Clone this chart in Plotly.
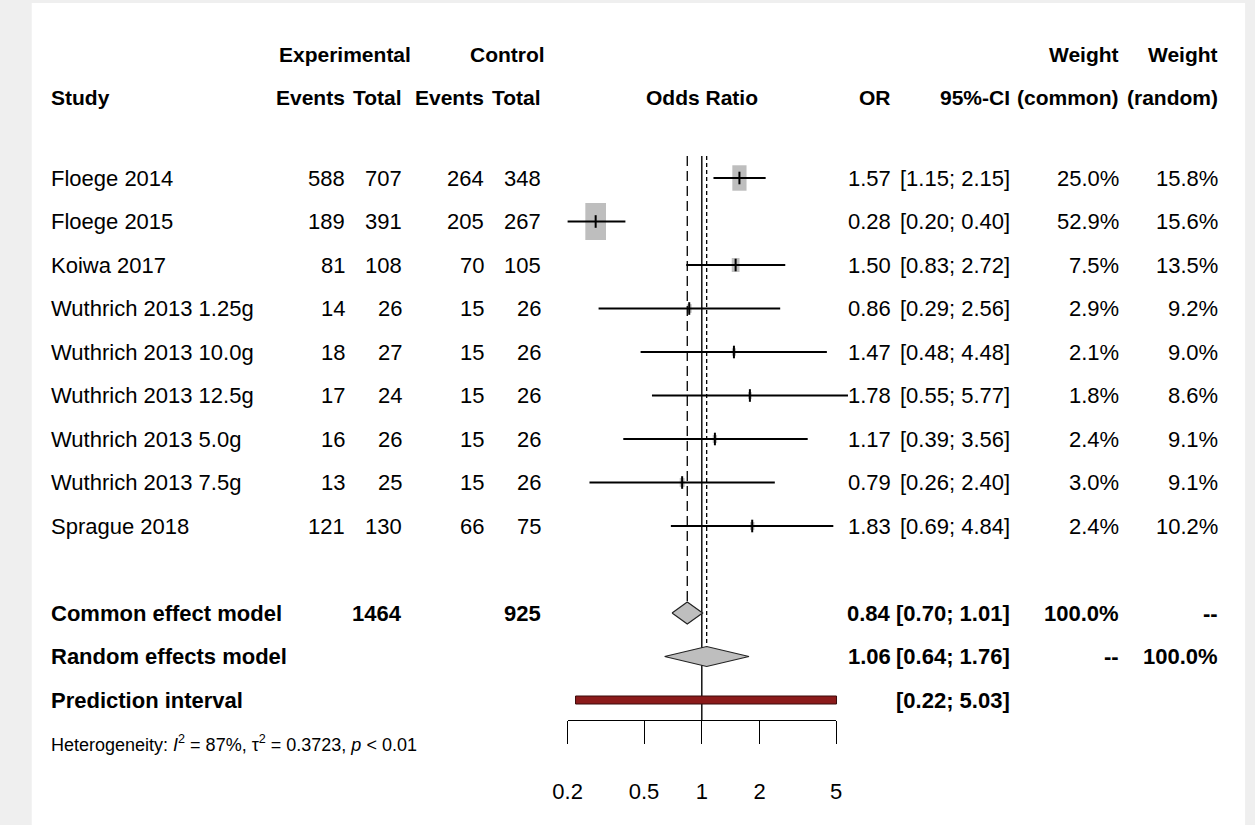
import math
import plotly.graph_objects as go

# ---- data -------------------------------------------------------------
studies = ["Floege 2014", "Floege 2015", "Koiwa 2017", "Wuthrich 2013 1.25g",
           "Wuthrich 2013 10.0g", "Wuthrich 2013 12.5g", "Wuthrich 2013 5.0g",
           "Wuthrich 2013 7.5g", "Sprague 2018"]
exp_events = [588, 189, 81, 14, 18, 17, 16, 13, 121]
exp_total = [707, 391, 108, 26, 27, 24, 26, 25, 130]
ctrl_events = [264, 205, 70, 15, 15, 15, 15, 15, 66]
ctrl_total = [348, 267, 105, 26, 26, 26, 26, 26, 75]
odds_ratio = [1.57, 0.28, 1.50, 0.86, 1.47, 1.78, 1.17, 0.79, 1.83]
ci_lower = [1.15, 0.20, 0.83, 0.29, 0.48, 0.55, 0.39, 0.26, 0.69]
ci_upper = [2.15, 0.40, 2.72, 2.56, 4.48, 5.77, 3.56, 2.40, 4.84]
weight_common = [25.0, 52.9, 7.5, 2.9, 2.1, 1.8, 2.4, 3.0, 2.4]
weight_random = [15.8, 15.6, 13.5, 9.2, 9.0, 8.6, 9.1, 9.1, 10.2]

exp_total_sum = 1464
ctrl_total_sum = 925
common_est, common_lo, common_hi = 0.84, 0.70, 1.01
random_est, random_lo, random_hi = 1.06, 0.64, 1.76
pred_lo, pred_hi = 0.22, 5.03
heterogeneity = "Heterogeneity: <i>I</i><sup>2</sup> = 87%, τ<sup>2</sup> = 0.3723, <i>p</i> &lt; 0.01"

tick_vals = [0.2, 0.5, 1, 2, 5]
tick_text = ["0.2", "0.5", "1", "2", "5"]

# ---- layout geometry (pixels) ----------------------------------------
W, H = 1255, 825
AX_LEFT_PX, AX_RIGHT_PX = 562, 835            # positions of 0.2 and 5
PX_PER_DEC = (AX_RIGHT_PX - AX_LEFT_PX) / math.log10(5 / 0.2)
X_RANGE = [math.log10(0.2) - AX_LEFT_PX / PX_PER_DEC,
           math.log10(5) + (W - AX_RIGHT_PX) / PX_PER_DEC]
AXIS_Y = 720

ROW0, ROW_STEP = 178, 43.5
row_y = [ROW0 + i * ROW_STEP for i in range(len(studies))]
y_common = row_y[-1] + 2 * ROW_STEP
y_random = y_common + ROW_STEP
y_pred = y_random + ROW_STEP
y_het = y_pred + ROW_STEP
HDR1, HDR2 = 54, 97

FONT = "Liberation Sans, Arial, Helvetica, sans-serif"
FS = 22
FS_HDR = 21
GRAY = "#BEBEBE"

# column anchors (right edges unless noted)
COL_STUDY = 35
COL_EE, COL_ET, COL_CE, COL_CT = 338, 396, 479, 537
COL_OR, COL_CI, COL_WC, COL_WR = 893, 1014, 1125, 1225
EXP_CENTER, CTRL_CENTER = 336, 501


def px_to_log_half(px):
    return (px / 2) / PX_PER_DEC


fig = go.Figure()

# study squares (area by common-effect weight)
max_w = max(weight_common)
for y, est, w in zip(row_y, odds_ratio, weight_common):
    s = math.sqrt(w / max_w)
    half = px_to_log_half(21 * s)
    hh = 37 * s / 2
    x0, x1 = est / 10 ** half, est * 10 ** half
    fig.add_trace(go.Scatter(
        x=[x0, x1, x1, x0, x0], y=[y - hh, y - hh, y + hh, y + hh, y - hh],
        mode="lines", fill="toself", fillcolor=GRAY, line=dict(width=0),
        hoverinfo="skip", showlegend=False))

# reference lines: common (dashed), null (solid), random (dotted)
fig.add_trace(go.Scatter(x=[common_est, common_est], y=[156, y_common - 11],
                         mode="lines", line=dict(color="black", width=1.3, dash="10px,5px"),
                         hoverinfo="skip", showlegend=False))
fig.add_trace(go.Scatter(x=[random_est, random_est], y=[156, y_random - 10],
                         mode="lines", line=dict(color="black", width=1.3, dash="4px,3px"),
                         hoverinfo="skip", showlegend=False))
fig.add_trace(go.Scatter(x=[1, 1], y=[156, AXIS_Y],
                         mode="lines", line=dict(color="black", width=1.4),
                         hoverinfo="skip", showlegend=False))

# confidence intervals
for y, lo, hi in zip(row_y, ci_lower, ci_upper):
    fig.add_trace(go.Scatter(x=[lo, hi], y=[y, y], mode="lines",
                             line=dict(color="black", width=1.8),
                             hoverinfo="skip", showlegend=False))
# point estimates
fig.add_trace(go.Scatter(x=odds_ratio, y=row_y, mode="markers",
                         marker=dict(symbol="line-ns", size=9,
                                     line=dict(color="black", width=2)),
                         hoverinfo="skip", showlegend=False))

# summary diamonds
for est, lo, hi, y, hh in [(common_est, common_lo, common_hi, y_common, 11),
                           (random_est, random_lo, random_hi, y_random, 10)]:
    fig.add_trace(go.Scatter(x=[lo, est, hi, est, lo], y=[y, y - hh, y, y + hh, y],
                             mode="lines", fill="toself", fillcolor=GRAY,
                             line=dict(color="#222222", width=1.2),
                             hoverinfo="skip", showlegend=False))

# prediction interval bar
fig.add_trace(go.Scatter(x=[pred_lo, pred_hi, pred_hi, pred_lo, pred_lo],
                         y=[y_pred - 4, y_pred - 4, y_pred + 4, y_pred + 4, y_pred - 4],
                         mode="lines", fill="toself", fillcolor="#8B1A1A",
                         line=dict(color="#3a0a0a", width=1),
                         hoverinfo="skip", showlegend=False))

# invisible trace so the scale axis subplot is drawn
fig.add_trace(go.Scatter(x=[1], y=[0.5], xaxis="x2", yaxis="y2", mode="markers",
                         marker=dict(opacity=0), hoverinfo="skip", showlegend=False))

# ---- text ---------------------------------------------------------------
annots = []


def txt(x, y, s, anchor="right", bold=False, size=FS):
    annots.append(dict(x=x / W, y=y, xref="paper", yref="y", text=f"<b>{s}</b>" if bold else s,
                       showarrow=False, xanchor=anchor, yanchor="middle",
                       font=dict(family=FONT, size=size, color="black")))


def hdr(x, y, s, anchor="right"):
    txt(x, y, s, anchor, True, FS_HDR)


# headers
hdr(EXP_CENTER, HDR1, "Experimental", "center")
hdr(CTRL_CENTER, HDR1, "Control", "center")
hdr(COL_WC, HDR1, "Weight")
hdr(COL_WR, HDR1, "Weight")
hdr(COL_STUDY, HDR2, "Study", "left")
hdr(COL_EE, HDR2, "Events")
hdr(COL_ET, HDR2, "Total")
hdr(COL_CE, HDR2, "Events")
hdr(COL_CT, HDR2, "Total")
hdr((AX_LEFT_PX + AX_RIGHT_PX) / 2, HDR2, "Odds Ratio", "center")
hdr(COL_OR, HDR2, "OR")
hdr(COL_CI, HDR2, "95%-CI")
hdr(COL_WC, HDR2, "(common)")
hdr(COL_WR, HDR2, "(random)")

# study rows
for i, y in enumerate(row_y):
    txt(COL_STUDY, y, studies[i], "left")
    txt(COL_EE, y, str(exp_events[i]))
    txt(COL_ET, y, str(exp_total[i]))
    txt(COL_CE, y, str(ctrl_events[i]))
    txt(COL_CT, y, str(ctrl_total[i]))
    txt(COL_OR, y, f"{odds_ratio[i]:.2f}")
    txt(COL_CI, y, f"[{ci_lower[i]:.2f}; {ci_upper[i]:.2f}]")
    txt(COL_WC, y, f"{weight_common[i]:.1f}%")
    txt(COL_WR, y, f"{weight_random[i]:.1f}%")

# summary rows
txt(COL_STUDY, y_common, "Common effect model", "left", True)
txt(COL_ET, y_common, str(exp_total_sum), "right", True)
txt(COL_CT, y_common, str(ctrl_total_sum), "right", True)
txt(COL_OR, y_common, f"{common_est:.2f}", "right", True)
txt(COL_CI, y_common, f"[{common_lo:.2f}; {common_hi:.2f}]", "right", True)
txt(COL_WC, y_common, "100.0%", "right", True)
txt(COL_WR, y_common, "--", "right", True)

txt(COL_STUDY, y_random, "Random effects model", "left", True)
txt(COL_OR, y_random, f"{random_est:.2f}", "right", True)
txt(COL_CI, y_random, f"[{random_lo:.2f}; {random_hi:.2f}]", "right", True)
txt(COL_WC, y_random, "--", "right", True)
txt(COL_WR, y_random, "100.0%", "right", True)

txt(COL_STUDY, y_pred, "Prediction interval", "left", True)
txt(COL_CI, y_pred, f"[{pred_lo:.2f}; {pred_hi:.2f}]", "right", True)

txt(COL_STUDY, y_het, heterogeneity, "left", False, 18)

fig.update_layout(
    width=W, height=H, autosize=False,
    margin=dict(l=0, r=0, t=0, b=0, pad=0),
    paper_bgcolor="#EFEFEF", plot_bgcolor="rgba(0,0,0,0)",
    xaxis=dict(type="log", range=X_RANGE, domain=[0, 1], visible=False, fixedrange=True),
    yaxis=dict(range=[H, 0], domain=[0, 1], visible=False, fixedrange=True),
    xaxis2=dict(type="log", range=[math.log10(0.2), math.log10(5)],
                domain=[AX_LEFT_PX / W, AX_RIGHT_PX / W], anchor="y2",
                showline=True, linecolor="black", linewidth=1.3,
                ticks="outside", ticklen=23, tickwidth=1.3, tickcolor="black",
                tickvals=tick_vals, ticktext=tick_text, ticklabelstandoff=28,
                tickfont=dict(family=FONT, size=FS, color="black"),
                showgrid=False, zeroline=False, fixedrange=True),
    yaxis2=dict(domain=[(H - AXIS_Y) / H, 1], range=[0, 1], visible=False, fixedrange=True),
    shapes=[dict(type="rect", xref="paper", yref="paper", x0=17 / W, x1=1251 / W,
                 y0=0, y1=1 - 3 / H, fillcolor="white", line=dict(width=0), layer="below")],
    annotations=annots,
    showlegend=False,
)

# remove the default page margin so the figure sits at the window's corner
fig.write_html("out.html",
               post_script="document.body.style.margin='0';document.body.style.padding='0';")
